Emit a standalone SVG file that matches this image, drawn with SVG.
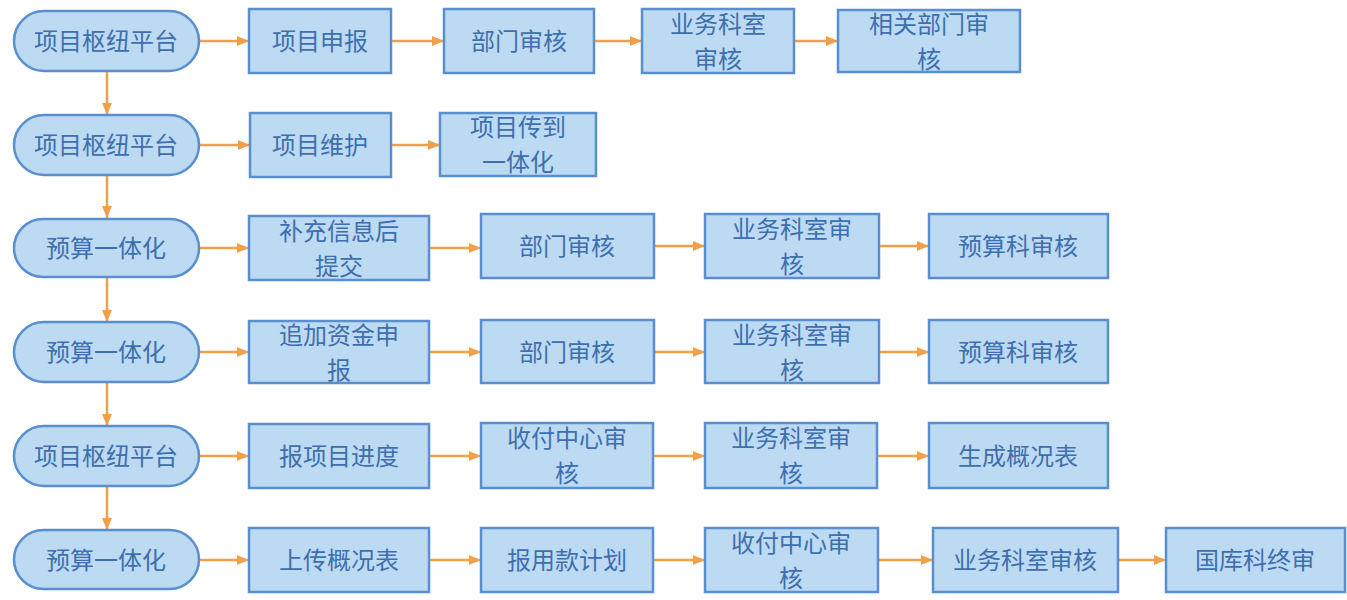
<svg xmlns="http://www.w3.org/2000/svg" width="1347" height="600" viewBox="0 0 1347 600">
<defs>
<marker id="ah" viewBox="0 0 12 10" refX="12" refY="5" markerWidth="12" markerHeight="10" markerUnits="userSpaceOnUse" orient="auto">
<path d="M0,0 L12,5 L0,10 Z" fill="#f0a04b"/>
</marker>
<style>
.term{fill:#bddaf3;stroke:#5a8fcf;stroke-width:2.5}
.box{fill:#bddaf3;stroke:#5a8fcf;stroke-width:2.5}
.t{font-family:"Noto Sans CJK SC","Noto Sans",sans-serif;font-size:24px;fill:#3e6fae;text-anchor:middle}
.c{stroke:#f0a04b;stroke-width:2.5;fill:none;marker-end:url(#ah)}
</style>
</defs>
<rect width="1347" height="600" fill="#ffffff"/>
<g id="connectors">
<line class="c" x1="107" y1="71" x2="107" y2="115"/>
<line class="c" x1="107" y1="175" x2="107" y2="218"/>
<line class="c" x1="107" y1="278" x2="107" y2="322"/>
<line class="c" x1="107" y1="382" x2="107" y2="426"/>
<line class="c" x1="107" y1="486" x2="107" y2="530"/>
<line class="c" x1="199" y1="41" x2="249" y2="41"/>
<line class="c" x1="391" y1="41" x2="444" y2="41"/>
<line class="c" x1="594" y1="41" x2="642" y2="41"/>
<line class="c" x1="794" y1="41" x2="838" y2="41"/>
<line class="c" x1="199" y1="145" x2="250" y2="145"/>
<line class="c" x1="391" y1="145" x2="440" y2="145"/>
<line class="c" x1="199" y1="248" x2="249" y2="248"/>
<line class="c" x1="430" y1="248" x2="481" y2="248"/>
<line class="c" x1="655" y1="246" x2="705" y2="246"/>
<line class="c" x1="880" y1="246" x2="929" y2="246"/>
<line class="c" x1="199" y1="352" x2="249" y2="352"/>
<line class="c" x1="430" y1="352" x2="481" y2="352"/>
<line class="c" x1="655" y1="352" x2="705" y2="352"/>
<line class="c" x1="880" y1="352" x2="929" y2="352"/>
<line class="c" x1="199" y1="456" x2="249" y2="456"/>
<line class="c" x1="430" y1="456" x2="481" y2="456"/>
<line class="c" x1="654" y1="456" x2="705" y2="456"/>
<line class="c" x1="878" y1="456" x2="929" y2="456"/>
<line class="c" x1="199" y1="560" x2="249" y2="560"/>
<line class="c" x1="430" y1="560" x2="481" y2="560"/>
<line class="c" x1="654" y1="560" x2="705" y2="560"/>
<line class="c" x1="879" y1="560" x2="933" y2="560"/>
<line class="c" x1="1118" y1="560" x2="1166" y2="560"/>
</g>
<g id="r1t"><rect class="term" x="14" y="11" width="185" height="60" rx="30"/><text class="t" x="106" y="50">项目枢纽平台</text></g>
<g id="r1b1"><rect class="box" x="249" y="9" width="142" height="64"/><text class="t" x="320" y="50">项目申报</text></g>
<g id="r1b2"><rect class="box" x="444" y="9" width="150" height="64"/><text class="t" x="519" y="50">部门审核</text></g>
<g id="r1b3"><rect class="box" x="642" y="9" width="152" height="64"/><text class="t" x="718" y="32.5">业务科室<tspan x="718" dy="35">审核</tspan></text></g>
<g id="r1b4"><rect class="box" x="838" y="10" width="182" height="62"/><text class="t" x="929" y="32.5">相关部门审<tspan x="929" dy="35">核</tspan></text></g>
<g id="r2t"><rect class="term" x="14" y="115" width="185" height="60" rx="30"/><text class="t" x="106" y="154">项目枢纽平台</text></g>
<g id="r2b1"><rect class="box" x="250" y="113" width="141" height="64"/><text class="t" x="320" y="154">项目维护</text></g>
<g id="r2b2"><rect class="box" x="440" y="113" width="156" height="63"/><text class="t" x="518" y="136">项目传到<tspan x="518" dy="35">一体化</tspan></text></g>
<g id="r3t"><rect class="term" x="14" y="219" width="185" height="58" rx="29"/><text class="t" x="106" y="257">预算一体化</text></g>
<g id="r3b1"><rect class="box" x="249" y="216" width="180" height="64"/><text class="t" x="339" y="239.5">补充信息后<tspan x="339" dy="35">提交</tspan></text></g>
<g id="r3b2"><rect class="box" x="481" y="214" width="173" height="64"/><text class="t" x="567" y="255">部门审核</text></g>
<g id="r3b3"><rect class="box" x="705" y="214" width="174" height="64"/><text class="t" x="792" y="237.5">业务科室审<tspan x="792" dy="35">核</tspan></text></g>
<g id="r3b4"><rect class="box" x="929" y="214" width="179" height="64"/><text class="t" x="1018" y="255">预算科审核</text></g>
<g id="r4t"><rect class="term" x="14" y="322" width="185" height="60" rx="30"/><text class="t" x="106" y="361">预算一体化</text></g>
<g id="r4b1"><rect class="box" x="249" y="321" width="180" height="62"/><text class="t" x="339" y="343.5">追加资金申<tspan x="339" dy="35">报</tspan></text></g>
<g id="r4b2"><rect class="box" x="481" y="320" width="173" height="63"/><text class="t" x="567" y="361">部门审核</text></g>
<g id="r4b3"><rect class="box" x="705" y="320" width="174" height="63"/><text class="t" x="792" y="343.5">业务科室审<tspan x="792" dy="35">核</tspan></text></g>
<g id="r4b4"><rect class="box" x="929" y="320" width="179" height="63"/><text class="t" x="1018" y="361">预算科审核</text></g>
<g id="r5t"><rect class="term" x="14" y="426" width="185" height="60" rx="30"/><text class="t" x="106" y="465">项目枢纽平台</text></g>
<g id="r5b1"><rect class="box" x="249" y="424" width="180" height="64"/><text class="t" x="339" y="465">报项目进度</text></g>
<g id="r5b2"><rect class="box" x="481" y="423" width="172" height="65"/><text class="t" x="567" y="447">收付中心审<tspan x="567" dy="35">核</tspan></text></g>
<g id="r5b3"><rect class="box" x="705" y="423" width="172" height="65"/><text class="t" x="791" y="447">业务科室审<tspan x="791" dy="35">核</tspan></text></g>
<g id="r5b4"><rect class="box" x="929" y="423" width="179" height="65"/><text class="t" x="1018" y="465">生成概况表</text></g>
<g id="r6t"><rect class="term" x="14" y="530" width="185" height="59" rx="29.5"/><text class="t" x="106" y="569">预算一体化</text></g>
<g id="r6b1"><rect class="box" x="249" y="528" width="180" height="64"/><text class="t" x="339" y="569">上传概况表</text></g>
<g id="r6b2"><rect class="box" x="481" y="528" width="172" height="64"/><text class="t" x="567" y="569">报用款计划</text></g>
<g id="r6b3"><rect class="box" x="705" y="528" width="173" height="64"/><text class="t" x="791" y="551.5">收付中心审<tspan x="791" dy="35">核</tspan></text></g>
<g id="r6b4"><rect class="box" x="933" y="528" width="185" height="64"/><text class="t" x="1025" y="569">业务科室审核</text></g>
<g id="r6b5"><rect class="box" x="1166" y="528" width="179" height="64"/><text class="t" x="1255" y="569">国库科终审</text></g>
</svg>
